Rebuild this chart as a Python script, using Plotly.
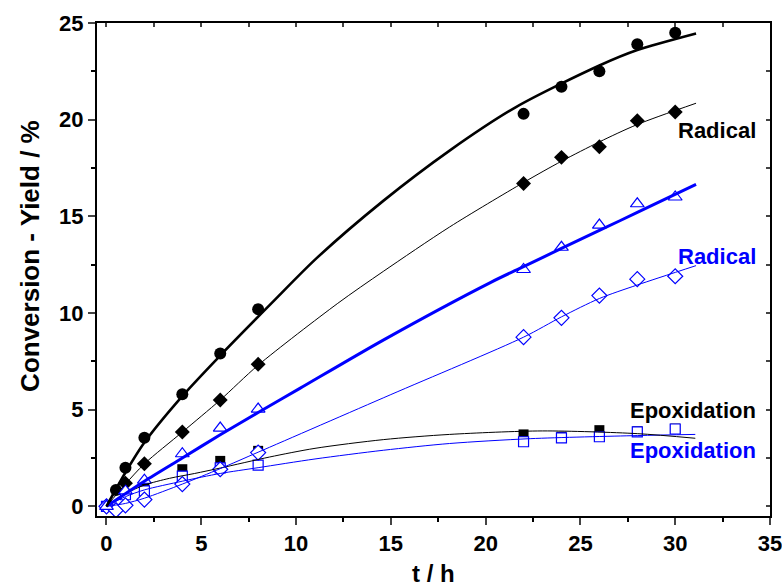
import plotly.graph_objects as go

# ---------------- data ----------------
t_a = [0, 0.5, 1, 2, 4, 6, 8, 22, 24, 26, 28, 30]
conv_black = [0, 0.85, 2.0, 3.55, 5.8, 7.9, 10.2, 20.3, 21.7, 22.5, 23.9, 24.5]

t_b = [0, 1, 2, 4, 6, 8, 22, 24, 26, 28, 30]
radical_black = [0, 1.2, 2.2, 3.85, 5.5, 7.35, 16.7, 18.05, 18.6, 19.95, 20.4]
conv_blue = [0, 0.8, 1.35, 2.72, 4.05, 5.03, 12.25, 13.4, 14.55, 15.65, 16.0]
epox_black = [0, 0.65, 1.05, 1.92, 2.35, 2.87, 3.72, 3.6, 3.94, 3.88, 4.02]
epox_blue = [0, 0.6, 0.8, 1.56, 1.99, 2.13, 3.34, 3.54, 3.6, 3.85, 4.0]

t_c = [0, 0.5, 1, 2, 4, 6, 8, 22, 24, 26, 28, 30]
radical_blue = [0, -0.2, 0.05, 0.35, 1.15, 1.92, 2.78, 8.75, 9.75, 10.9, 11.75, 11.9]

# fitted curves
fit_conv_black_t = [0, 1, 2, 4, 6, 8.8, 11.1, 14.6, 18.1, 21.6, 26, 28, 31.1]
fit_conv_black_y = [0, 1.75, 3.3, 5.7, 7.8, 10.6, 12.85, 15.8, 18.4, 20.65, 22.8, 23.6, 24.46]

fit_rad_black_t = [0, 1, 2, 4, 6, 8, 12.2, 14.6, 18.1, 22, 24, 26, 28, 31.1]
fit_rad_black_y = [0, 1.15, 2.2, 3.84, 5.5, 7.3, 10.5, 12.15, 14.45, 16.75, 17.85, 18.85, 19.75, 20.85]

fit_conv_blue_t = [0, 2, 4, 6, 8, 10.2, 14.6, 20.3, 22, 24, 26, 28, 31.1]
fit_conv_blue_y = [0, 1.3, 2.5, 3.7, 4.85, 6.1, 8.6, 11.6, 12.4, 13.34, 14.27, 15.2, 16.65]

fit_rad_blue_t = [0, 1, 2, 4, 6, 8, 15, 22, 24, 26, 28, 31.1]
fit_rad_blue_y = [0, 0.15, 0.42, 1.15, 1.95, 2.8, 5.78, 8.75, 9.8, 10.75, 11.45, 12.45]

fit_epox_black_t = [0, 1, 2, 3.33, 4.65, 6, 8.6, 11, 14.6, 18.1, 23, 28, 31.06]
fit_epox_black_y = [0, 0.65, 1.1, 1.45, 1.7, 1.98, 2.55, 3.0, 3.45, 3.72, 3.9, 3.76, 3.52]

fit_epox_blue_t = [0, 1, 2, 4, 6, 8, 11, 14.6, 18.1, 22.35, 28, 31.06]
fit_epox_blue_y = [0, 0.5, 0.85, 1.3, 1.7, 2.0, 2.45, 2.9, 3.25, 3.5, 3.66, 3.72]

x_ticks = [0, 5, 10, 15, 20, 25, 30, 35]
y_ticks = [0, 5, 10, 15, 20, 25]

BLUE = "#0000FF"
FONT = "Arial, Liberation Sans, sans-serif"

fig = go.Figure()

# markers first
fig.add_trace(go.Scatter(x=t_b, y=epox_black, mode="markers",
                         marker=dict(symbol="square", size=10, color="black"), showlegend=False))
fig.add_trace(go.Scatter(x=t_a, y=conv_black, mode="markers",
                         marker=dict(symbol="circle", size=12, color="black"), showlegend=False))
fig.add_trace(go.Scatter(x=t_b, y=radical_black, mode="markers",
                         marker=dict(symbol="diamond", size=11.5, color="black"), showlegend=False))
fig.add_trace(go.Scatter(x=t_b, y=epox_blue, mode="markers",
                         marker=dict(symbol="square", size=10, color="white",
                                     line=dict(color=BLUE, width=1.2)), showlegend=False))
fig.add_trace(go.Scatter(x=t_c, y=radical_blue, mode="markers",
                         marker=dict(symbol="diamond", size=11.5, color="white",
                                     line=dict(color=BLUE, width=1.2)), showlegend=False))
fig.add_trace(go.Scatter(x=t_b, y=conv_blue, mode="markers",
                         marker=dict(symbol="triangle-up", size=12, color="white",
                                     line=dict(color=BLUE, width=1.2)), showlegend=False))

# fitted curves
curves = [
    (fit_epox_blue_t, fit_epox_blue_y, BLUE, 1.0),
    (fit_epox_black_t, fit_epox_black_y, "black", 1.0),
    (fit_rad_blue_t, fit_rad_blue_y, BLUE, 1.0),
    (fit_conv_blue_t, fit_conv_blue_y, BLUE, 3.0),
    (fit_rad_black_t, fit_rad_black_y, "black", 1.0),
    (fit_conv_black_t, fit_conv_black_y, "black", 2.6),
]
for cx, cy, col, w in curves:
    fig.add_trace(go.Scatter(x=cx, y=cy, mode="lines",
                             line=dict(color=col, width=w, shape="spline", smoothing=0.8),
                             showlegend=False, hoverinfo="skip"))

# dummy trace for mirrored (inside-tick) top/right axes
fig.add_trace(go.Scatter(x=[None], y=[None], xaxis="x2", yaxis="y2",
                         showlegend=False, hoverinfo="skip"))

XR = [-0.5, 35]
YR = [-0.5, 25]

fig.update_layout(
    width=782, height=587,
    margin=dict(l=97, r=12, t=23, b=71),
    paper_bgcolor="white", plot_bgcolor="white",
    font=dict(family=FONT, color="black"),
    xaxis=dict(range=XR, tickvals=x_ticks, ticks="outside", ticklen=7, tickwidth=2,
               showline=True, linewidth=2, linecolor="black", mirror=True,
               showgrid=False, zeroline=False, automargin=False, ticklabeloverflow="allow",
               tickfont=dict(size=22, family=FONT, weight="bold"),
               minor=dict(dtick=2.5, tick0=0, ticks="outside", ticklen=4, tickwidth=2,
                          tickcolor="black", showgrid=False)),
    yaxis=dict(range=YR, tickvals=y_ticks, ticks="outside", ticklen=7, tickwidth=2,
               showline=True, linewidth=2, linecolor="black", mirror=True,
               showgrid=False, zeroline=False, automargin=False, ticklabeloverflow="allow",
               tickfont=dict(size=22, family=FONT, weight="bold"),
               minor=dict(dtick=2.5, tick0=0, ticks="outside", ticklen=4, tickwidth=2,
                          tickcolor="black", showgrid=False)),
    xaxis2=dict(range=XR, overlaying="x", side="top", anchor="y", dtick=2.5, tick0=0,
                ticks="inside", ticklen=4, tickwidth=2, showticklabels=False,
                showgrid=False, zeroline=False, showline=False, automargin=False),
    yaxis2=dict(range=YR, overlaying="y", side="right", anchor="x", dtick=2.5, tick0=0,
                ticks="inside", ticklen=4, tickwidth=2, showticklabels=False,
                showgrid=False, zeroline=False, showline=False, automargin=False),
)

ann_font = dict(size=22, family=FONT, weight="bold")
fig.add_annotation(x=34.35, y=19.43, text="Radical", showarrow=False, xanchor="right",
                   yanchor="middle", font=dict(ann_font, color="black"))
fig.add_annotation(x=34.35, y=12.92, text="Radical", showarrow=False, xanchor="right",
                   yanchor="middle", font=dict(ann_font, color=BLUE))
fig.add_annotation(x=34.35, y=4.94, text="Epoxidation", showarrow=False, xanchor="right",
                   yanchor="middle", font=dict(ann_font, color="black"))
fig.add_annotation(x=34.35, y=2.87, text="Epoxidation", showarrow=False, xanchor="right",
                   yanchor="middle", font=dict(ann_font, color=BLUE))

# axis titles
fig.add_annotation(xref="paper", yref="paper", x=-0.1, y=0.527, text="Conversion - Yield / %",
                   textangle=-90, showarrow=False, xanchor="center", yanchor="middle",
                   font=dict(size=26, family=FONT, weight="bold", color="black"))
fig.add_annotation(xref="paper", yref="paper", x=0.5, y=-0.116, text="t / h",
                   showarrow=False, xanchor="center", yanchor="middle",
                   font=dict(size=24, family=FONT, weight="bold", color="black"))

fig.write_html("out.html", config={"displayModeBar": False},
               post_script="document.body.style.margin='0';")
